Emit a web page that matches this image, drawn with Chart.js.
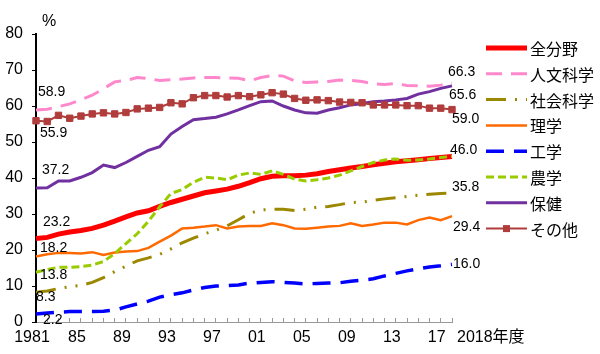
<!DOCTYPE html>
<html lang="ja">
<head>
<meta charset="utf-8">
<script src="https://cdn.jsdelivr.net/npm/chart.js@4.4.1/dist/chart.umd.min.js"></script>
<style>
  html, body { margin: 0; padding: 0; background: #fff; }
  #wrap { width: 600px; height: 354px; }
</style>
</head>
<body>
<div id="wrap"><canvas id="chart" width="600" height="354"></canvas></div>
<script>
// 年度 1981-2018
const years = [
  '1981','1982','1983','1984','1985','1986','1987','1988','1989','1990',
  '1991','1992','1993','1994','1995','1996','1997','1998','1999','2000',
  '2001','2002','2003','2004','2005','2006','2007','2008','2009','2010',
  '2011','2012','2013','2014','2015','2016','2017','2018'
];
const xTickLabels = ['1981', '85', '89', '93', '97', '01', '05', '09', '13', '17'];
const yTicks = [0, 10, 20, 30, 40, 50, 60, 70, 80];

const seriesNames = ['全分野', '人文科学', '社会科学', '理学', '工学', '農学', '保健', 'その他'];

const allFields = [
  23.2, 23.5, 24.4, 25.0, 25.4, 26.0, 26.9, 28.0, 29.2, 30.3,
  30.9, 32.1, 33.2, 34.1, 35.0, 35.9, 36.4, 36.9, 37.7, 38.7,
  39.8, 40.5, 40.6, 40.6, 40.8, 41.2, 41.8, 42.3, 42.8, 43.2,
  43.7, 44.1, 44.5, 44.8, 45.1, 45.4, 45.7, 46.0
];
const humanities = [
  58.9, 59.1, 59.8, 60.6, 61.7, 63.0, 64.8, 66.7, 67.1, 67.9,
  67.6, 67.1, 67.3, 67.5, 67.8, 67.9, 67.9, 67.8, 67.7, 67.0,
  67.9, 68.5, 68.3, 67.0, 66.5, 66.7, 66.8, 67.2, 67.1, 66.8,
  66.2, 66.0, 66.2, 65.7, 65.6, 65.5, 65.8, 66.3
];
const social = [
  8.3, 8.6, 9.3, 9.8, 10.2, 11.0, 12.3, 14.0, 15.5, 17.0,
  17.8, 18.8, 20.3, 22.0, 23.3, 24.5, 25.5, 26.7, 28.4, 30.2,
  31.1, 31.3, 31.3, 31.0, 31.3, 31.9, 32.1, 32.6, 33.2, 33.3,
  33.8, 34.2, 34.5, 34.9, 35.2, 35.5, 35.7, 35.8
];
const science = [
  18.2, 18.8, 19.2, 19.2, 19.0, 19.4, 18.6, 19.3, 19.6, 19.7,
  20.6, 22.3, 24.0, 26.0, 26.2, 26.5, 26.9, 26.0, 26.5, 26.7,
  26.7, 27.4, 26.9, 26.0, 25.9, 26.2, 26.5, 26.7, 27.4, 26.7,
  27.1, 27.6, 27.6, 27.1, 28.3, 29.0, 28.3, 29.4
];
const engineering = [
  2.2, 2.5, 2.7, 2.9, 2.9, 2.9, 3.0, 3.3, 4.2, 5.0,
  5.8, 6.9, 7.6, 8.1, 8.9, 9.6, 10.0, 10.1, 10.3, 10.8,
  11.0, 11.2, 11.0, 10.8, 10.6, 10.7, 10.8, 10.9, 11.3, 11.6,
  12.0, 12.8, 13.5, 14.2, 14.8, 15.3, 15.6, 16.0
];
const agriculture = [
  13.8, 14.6, 15.2, 15.2, 15.4, 15.8, 16.8, 19.0, 21.8, 24.5,
  28.0, 32.0, 35.7, 36.8, 38.8, 40.2, 40.0, 39.5, 40.8, 41.4,
  41.0, 42.0, 41.0, 39.7, 39.2, 39.5, 40.0, 40.8, 42.0, 43.2,
  44.3, 45.0, 45.3, 44.9, 45.0, 45.3, 45.7, 46.0
];
const health = [
  37.2, 37.3, 39.2, 39.2, 40.2, 41.5, 43.6, 42.9, 44.3, 46.0,
  47.7, 48.7, 52.2, 54.3, 56.2, 56.5, 56.9, 57.8, 58.9, 60.1,
  61.2, 61.4, 60.0, 58.9, 58.1, 58.0, 58.9, 59.5, 60.3, 60.7,
  61.2, 61.4, 61.7, 62.1, 63.3, 64.0, 64.9, 65.6
];
const other = [
  55.9, 55.7, 57.4, 56.6, 57.2, 57.8, 58.1, 57.8, 58.2, 59.2,
  59.4, 59.6, 60.9, 60.6, 62.3, 62.9, 62.9, 62.5, 62.9, 62.6,
  63.1, 63.7, 63.3, 62.1, 61.6, 61.7, 61.5, 61.1, 61.0, 60.9,
  60.3, 60.3, 60.3, 60.1, 60.1, 59.4, 59.4, 59.0
];
const seriesValues = [allFields, humanities, social, science, engineering, agriculture, health, other];

// looks
const styles = [
  { color: '#ff0000', width: 5, dash: [] },
  { color: '#ff88cc', width: 3, dash: [16, 9] },
  { color: '#9c8800', width: 3, dash: [20, 9, 2, 9, 2, 9] },
  { color: '#ff6a00', width: 2.5, dash: [] },
  { color: '#0000ff', width: 3.5, dash: [18, 10] },
  { color: '#99cc00', width: 3, dash: [8, 4] },
  { color: '#7030a0', width: 3, dash: [] },
  { color: '#b03c3c', width: 2, dash: [], marker: true }
];
// label offsets [dx, dy] from first / last point
const startOffsets = [[7, -16], [2, -18], [0, 5], [4, -8], [7, 6], [4, 3], [6, -18], [4, 12]];
const endOffsets = [[-2, -6], [-4, -11], [0, -6], [1, 11], [1, 0], null, [-3, 9], [0, 10]];

const fontLatin = '"Liberation Sans", Arial, sans-serif';
const fontJa = '"Noto Sans CJK JP", sans-serif';

const labelPlugin = {
  id: 'valueLabels',
  afterDatasetsDraw(chart) {
    const ctx = chart.ctx;
    ctx.save();
    ctx.font = '14px ' + fontLatin;
    ctx.fillStyle = '#000';
    ctx.textAlign = 'left';
    ctx.textBaseline = 'middle';
    chart.data.datasets.forEach((ds, i) => {
      const pts = chart.getDatasetMeta(i).data;
      const first = pts[0], last = pts[pts.length - 1];
      const so = startOffsets[i];
      ctx.fillText(ds.data[0].toFixed(1), first.x + so[0], first.y + so[1]);
      const eo = endOffsets[i];
      if (eo) ctx.fillText(ds.data[ds.data.length - 1].toFixed(1), last.x + eo[0], last.y + eo[1]);
    });
    ctx.restore();
  },
  afterDraw(chart) {
    const ctx = chart.ctx;
    ctx.save();
    ctx.fillStyle = '#000';
    ctx.textBaseline = 'middle';
    ctx.font = '16px ' + fontLatin;
    ctx.textAlign = 'center';
    ctx.fillText('%', 49, 22);
    ctx.textAlign = 'left';
    ctx.font = '16px ' + fontLatin + ', ' + fontJa;
    ctx.fillText('2018年度', 457, 338);

    // legend
    const x0 = 486, x1 = 527;
    seriesNames.forEach((name, i) => {
      const st = styles[i];
      const y = 48 + i * 25.8;
      ctx.strokeStyle = st.color;
      ctx.lineWidth = st.width;
      ctx.setLineDash(st.dash);
      ctx.beginPath();
      ctx.moveTo(x0, y);
      ctx.lineTo(x1, y);
      ctx.stroke();
      ctx.setLineDash([]);
      if (st.marker) {
        ctx.fillStyle = st.color;
        ctx.fillRect((x0 + x1) / 2 - 3.5, y - 3.5, 7, 7);
      }
      ctx.fillStyle = '#000';
      ctx.font = '16px ' + fontJa;
      ctx.fillText(name, 530, y + 1);
    });
    ctx.restore();
  }
};

const datasets = seriesNames.map((name, i) => ({
  label: name,
  data: seriesValues[i],
  borderColor: styles[i].color,
  backgroundColor: styles[i].color,
  borderWidth: styles[i].width,
  borderDash: styles[i].dash,
  pointRadius: styles[i].marker ? 4.5 : 0,
  pointStyle: 'rect',
  pointBorderWidth: 1,
  pointBackgroundColor: styles[i].color,
  tension: 0,
  clip: false,
  order: seriesNames.length - i
}));

new Chart(document.getElementById('chart'), {
  type: 'line',
  data: { labels: years, datasets: datasets },
  options: {
    responsive: false,
    animation: false,
    layout: { autoPadding: false, padding: { top: 34, right: 148, bottom: 0, left: 0 } },
    plugins: { legend: { display: false }, tooltip: { enabled: false } },
    scales: {
      x: {
        type: 'category',
        offset: false,
        afterFit(s) { s.height = 32; },
        border: { display: true, color: '#999', width: 1 },
        grid: { display: true, drawOnChartArea: false, drawTicks: true, tickLength: -4, color: '#999' },
        ticks: {
          autoSkip: false,
          maxRotation: 0,
          padding: 10,
          labelOffset: -4,
          color: '#000',
          font: { family: fontLatin, size: 16 },
          callback: (v, i) => (i % 4 === 0 && i / 4 < xTickLabels.length) ? xTickLabels[i / 4] : ''
        }
      },
      y: {
        min: yTicks[0],
        max: yTicks[yTicks.length - 1],
        afterFit(s) { s.width = 36; },
        afterBuildTicks(s) { s.ticks = yTicks.map(v => ({ value: v })); },
        border: { display: true, color: '#000', width: 2 },
        grid: { display: true, drawOnChartArea: false, drawTicks: true, tickLength: 4, color: '#000' },
        ticks: {
          padding: 9,
          color: '#000',
          font: { family: fontLatin, size: 16 }
        }
      }
    }
  },
  plugins: [labelPlugin]
});
</script>
</body>
</html>
